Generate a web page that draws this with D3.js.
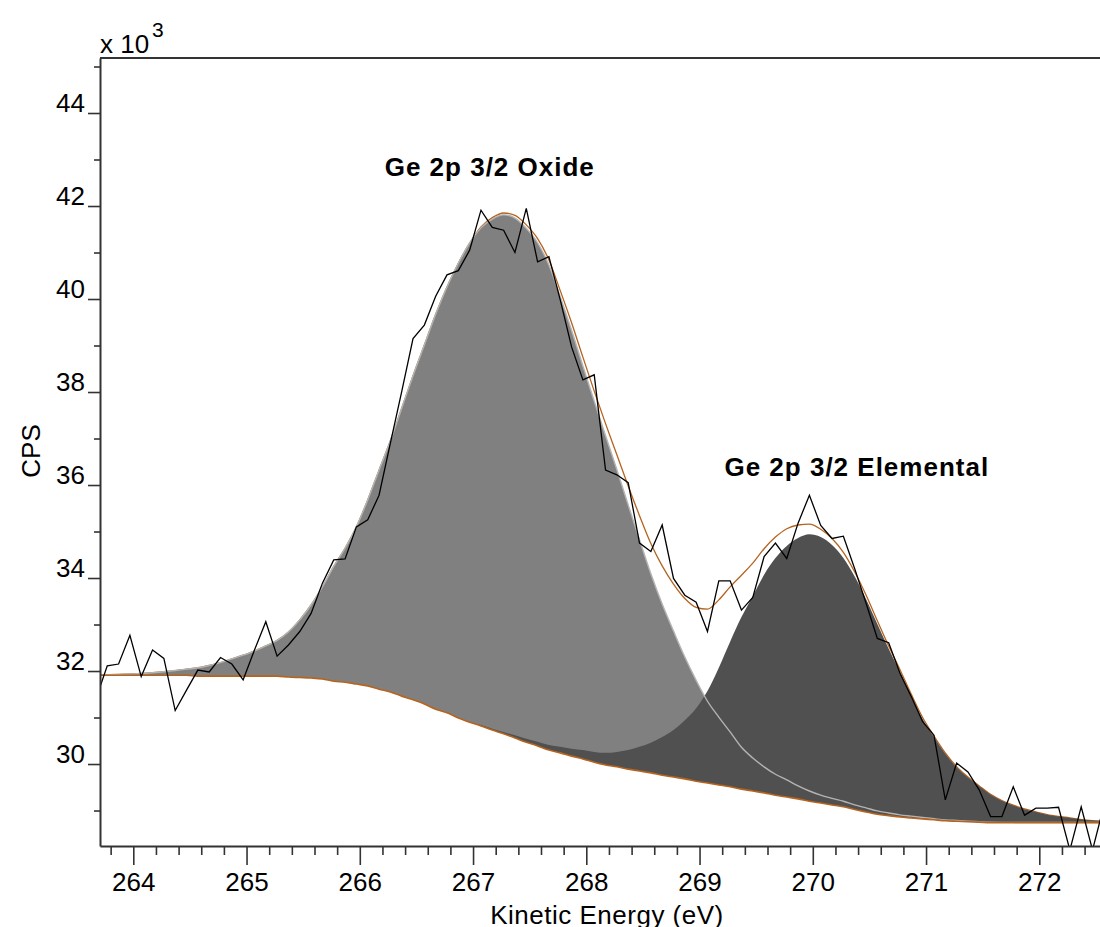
<!DOCTYPE html>
<html>
<head>
<meta charset="utf-8">
<script src="https://cdn.jsdelivr.net/npm/d3@7"></script>
<style>
  body { margin: 0; background: #fff; }
  svg { display: block; font-family: Arial, "Liberation Sans", sans-serif; }
</style>
</head>
<body>
<svg id="chart" width="1100" height="927"></svg>
<script>
// Ge 2p 3/2 XPS fit — values in kCPS (axis is x 10^3)
const energy = [
  263.67, 263.77, 263.87, 263.97, 264.07, 264.17, 264.27, 264.37, 264.47, 264.57,
  264.67, 264.77, 264.87, 264.97, 265.07, 265.17, 265.27, 265.37, 265.47, 265.57,
  265.67, 265.77, 265.87, 265.97, 266.07, 266.17, 266.27, 266.37, 266.47, 266.57,
  266.67, 266.77, 266.87, 266.97, 267.07, 267.17, 267.27, 267.37, 267.47, 267.57,
  267.67, 267.77, 267.87, 267.97, 268.07, 268.17, 268.27, 268.37, 268.47, 268.57,
  268.67, 268.77, 268.87, 268.97, 269.07, 269.17, 269.27, 269.37, 269.47, 269.57,
  269.67, 269.77, 269.87, 269.97, 270.07, 270.17, 270.27, 270.37, 270.47, 270.57,
  270.67, 270.77, 270.87, 270.97, 271.07, 271.17, 271.27, 271.37, 271.47, 271.57,
  271.67, 271.77, 271.87, 271.97, 272.07, 272.17, 272.27, 272.37, 272.47, 272.57
];

// measured counts
const counts = [
  31.40, 32.11, 32.15, 32.77, 31.88, 32.45, 32.27, 31.15, 31.59, 32.02,
  31.98, 32.29, 32.15, 31.81, 32.45, 33.06, 32.32, 32.56, 32.85, 33.24,
  33.89, 34.39, 34.41, 35.10, 35.25, 35.78, 36.90, 38.01, 39.15, 39.44,
  40.06, 40.52, 40.61, 41.05, 41.91, 41.54, 41.48, 41.00, 41.95, 40.80,
  40.91, 39.98, 38.97, 38.26, 38.37, 36.32, 36.22, 36.05, 34.75, 34.57,
  35.14, 33.99, 33.63, 33.48, 32.85, 33.94, 33.94, 33.31, 33.58, 34.46,
  34.75, 34.42, 35.18, 35.78, 35.13, 34.85, 34.90, 34.20, 33.46, 32.70,
  32.61, 31.95, 31.45, 30.91, 30.62, 29.23, 30.02, 29.83, 29.44, 28.87,
  28.87, 29.51, 28.90, 29.05, 29.05, 29.07, 28.15, 29.08, 28.15, 29.10
];

// background (Shirley type)
const background = [
  31.91, 31.91, 31.91, 31.91, 31.91, 31.91, 31.91, 31.91, 31.91, 31.89,
  31.89, 31.89, 31.89, 31.89, 31.89, 31.89, 31.89, 31.87, 31.86, 31.85,
  31.83, 31.78, 31.76, 31.72, 31.68, 31.61, 31.55, 31.46, 31.38, 31.29,
  31.18, 31.10, 30.99, 30.90, 30.82, 30.73, 30.65, 30.56, 30.47, 30.39,
  30.30, 30.24, 30.17, 30.11, 30.04, 29.98, 29.94, 29.89, 29.85, 29.81,
  29.76, 29.72, 29.68, 29.63, 29.59, 29.55, 29.51, 29.46, 29.42, 29.38,
  29.33, 29.29, 29.25, 29.20, 29.16, 29.12, 29.08, 29.02, 28.97, 28.92,
  28.89, 28.86, 28.84, 28.82, 28.80, 28.78, 28.77, 28.76, 28.75, 28.74,
  28.74, 28.74, 28.74, 28.74, 28.74, 28.74, 28.74, 28.74, 28.74, 28.74
];

// component heights above background
const oxide = [
  0.006, 0.011, 0.017, 0.026, 0.037, 0.054, 0.075, 0.10, 0.13, 0.18,
  0.23, 0.29, 0.37, 0.45, 0.54, 0.65, 0.77, 0.97, 1.24, 1.57,
  1.98, 2.47, 2.88, 3.38, 4.00, 4.71, 5.40, 6.19, 6.97, 7.72,
  8.49, 9.16, 9.78, 10.30, 10.71, 10.99, 11.16, 11.18, 11.05, 10.82,
  10.43, 9.81, 9.16, 8.45, 7.76, 7.08, 6.39, 5.68, 4.97, 4.28,
  3.68, 3.14, 2.62, 2.17, 1.76, 1.46, 1.18, 0.90, 0.71, 0.56,
  0.45, 0.37, 0.28, 0.22, 0.17, 0.14, 0.12, 0.10, 0.086, 0.071,
  0.058, 0.047, 0.039, 0.030, 0.024, 0.019, 0.015, 0.011, 0.009, 0.007,
  0.005, 0.004, 0.003, 0.003, 0.002, 0.002, 0.002, 0.001, 0.001, 0.001
];

const elemental = [
  0, 0, 0, 0, 0, 0, 0, 0, 0, 0,
  0, 0, 0, 0, 0, 0, 0, 0, 0, 0,
  0, 0, 0, 0, 0, 0, 0, 0, 0, 0,
  0, 0, 0, 0, 0.02, 0.03, 0.04, 0.06, 0.075, 0.09,
  0.11, 0.13, 0.16, 0.19, 0.22, 0.26, 0.32, 0.41, 0.52, 0.65,
  0.82, 1.01, 1.26, 1.57, 1.98, 2.52, 3.12, 3.70, 4.19, 4.69,
  5.10, 5.40, 5.61, 5.74, 5.72, 5.59, 5.35, 5.01, 4.58, 4.09,
  3.59, 3.12, 2.62, 2.15, 1.78, 1.44, 1.16, 0.95, 0.77, 0.60,
  0.47, 0.37, 0.29, 0.23, 0.17, 0.13, 0.10, 0.065, 0.043, 0.032
];

const xTicks = [264, 265, 266, 267, 268, 269, 270, 271, 272];
const xMinor = [
  263.8, 264.2, 264.4, 264.6, 264.8, 265.2, 265.4, 265.6, 265.8,
  266.2, 266.4, 266.6, 266.8, 267.2, 267.4, 267.6, 267.8,
  268.2, 268.4, 268.6, 268.8, 269.2, 269.4, 269.6, 269.8,
  270.2, 270.4, 270.6, 270.8, 271.2, 271.4, 271.6, 271.8, 272.2, 272.4
];
const yTicks = [30, 32, 34, 36, 38, 40, 42, 44];
const yMinor = [29, 31, 33, 35, 37, 39, 41, 43, 45];

const svg = d3.select('#chart'),
  margin = { top: 58, right: 0, bottom: 81, left: 100 },
  W = +svg.attr('width') - margin.left - margin.right,
  H = +svg.attr('height') - margin.top - margin.bottom;

svg.append('rect').attr('width', 1100).attr('height', 927).attr('fill', '#fff');

const g = svg.append('g')
  .attr('transform', `translate(${margin.left},${margin.top})`);

const rows = energy.map((e, i) => ({
  e,
  cps: counts[i],
  bg: background[i],
  ox: oxide[i],
  el: elemental[i]
}));

const x = d3.scaleLinear().domain([263.706, 272.536]).range([0, W]);
const y = d3.scaleLinear().domain([28.237, 45.183]).range([H, 0]);

g.append('clipPath').attr('id', 'clip')
  .append('rect').attr('width', W).attr('height', H);

const plot = g.append('g').attr('clip-path', 'url(#clip)');

const curve = d3.curveMonotoneX;
const brown = '#b5641f';

// envelope under the fills
plot.append('path')
  .datum(rows)
  .attr('fill', 'none')
  .attr('stroke', brown)
  .attr('stroke-width', 1.3)
  .attr('d', d3.line().x(d => x(d.e)).y(d => y(d.bg + d.ox + d.el)).curve(curve));

plot.append('path')
  .datum(rows)
  .attr('fill', '#808080')
  .attr('d', d3.area().x(d => x(d.e)).y0(d => y(d.bg)).y1(d => y(d.bg + d.ox)).curve(curve));

plot.append('path')
  .datum(rows)
  .attr('fill', '#505050')
  .attr('d', d3.area().x(d => x(d.e)).y0(d => y(d.bg)).y1(d => y(d.bg + d.el)).curve(curve));

// oxide outline (shows through the elemental fill)
plot.append('path')
  .datum(rows)
  .attr('fill', 'none')
  .attr('stroke', '#b4b4b4')
  .attr('stroke-width', 1.4)
  .attr('d', d3.line().x(d => x(d.e)).y(d => y(d.bg + d.ox)).curve(curve));

// background line
plot.append('path')
  .datum(rows)
  .attr('fill', 'none')
  .attr('stroke', brown)
  .attr('stroke-width', 1.6)
  .attr('d', d3.line().x(d => x(d.e)).y(d => y(d.bg)).curve(curve));

// raw data
plot.append('path')
  .datum(rows)
  .attr('fill', 'none')
  .attr('stroke', '#000')
  .attr('stroke-width', 1.3)
  .attr('d', d3.line().x(d => x(d.e)).y(d => y(d.cps)));

// axes
const axisColor = '#333';

const yMin = g.append('g')
  .call(d3.axisLeft(y).tickValues(yMinor).tickSize(6).tickSizeOuter(0).tickFormat(''));
yMin.select('.domain').remove();

const yAx = g.append('g')
  .call(d3.axisLeft(y).tickValues(yTicks).tickSize(12).tickSizeOuter(0).tickFormat(d3.format('d')));
yAx.selectAll('text')
  .attr('x', -15)
  .attr('dy', '-0.06em')
  .style('font-size', '26px')
  .attr('fill', '#000');

const xMin = g.append('g')
  .attr('transform', `translate(0,${H})`)
  .call(d3.axisBottom(x).tickValues(xMinor).tickSize(9).tickSizeOuter(0).tickFormat(''));
xMin.select('.domain').remove();

const xAx = g.append('g')
  .attr('transform', `translate(0,${H})`)
  .call(d3.axisBottom(x).tickValues(xTicks).tickSize(19).tickSizeOuter(0).tickFormat(d3.format('d')));
xAx.selectAll('text')
  .attr('y', 27)
  .style('font-size', '26px')
  .attr('fill', '#000');

[yMin, yAx, xMin, xAx].forEach(a => {
  a.selectAll('.tick line').attr('stroke', axisColor).attr('stroke-width', 1.6);
  a.select('.domain').attr('stroke', axisColor).attr('stroke-width', 2);
});

// top frame line
g.append('line')
  .attr('x1', 0).attr('x2', W)
  .attr('y1', 0).attr('y2', 0)
  .attr('stroke', axisColor)
  .attr('stroke-width', 2);

// axis titles
svg.append('text')
  .attr('x', margin.left)
  .attr('y', 53)
  .style('font-size', '26px')
  .text('x 10');

svg.append('text')
  .attr('x', margin.left + 52)
  .attr('y', 37)
  .style('font-size', '21px')
  .text('3');

svg.append('text')
  .attr('transform', 'translate(40,451) rotate(-90)')
  .attr('text-anchor', 'middle')
  .style('font-size', '26px')
  .text('CPS');

svg.append('text')
  .attr('x', 607)
  .attr('y', 924)
  .attr('text-anchor', 'middle')
  .style('font-size', '26px')
  .style('letter-spacing', '0.5px')
  .text('Kinetic Energy (eV)');

// peak labels
g.append('text')
  .attr('x', x(266.22))
  .attr('y', y(42.65))
  .style('font-size', '26px')
  .style('font-weight', 'bold')
  .style('letter-spacing', '1px')
  .text('Ge 2p 3/2 Oxide');

g.append('text')
  .attr('x', x(269.22))
  .attr('y', y(36.19))
  .style('font-size', '26px')
  .style('font-weight', 'bold')
  .style('letter-spacing', '1px')
  .text('Ge 2p 3/2 Elemental');
</script>
</body>
</html>
